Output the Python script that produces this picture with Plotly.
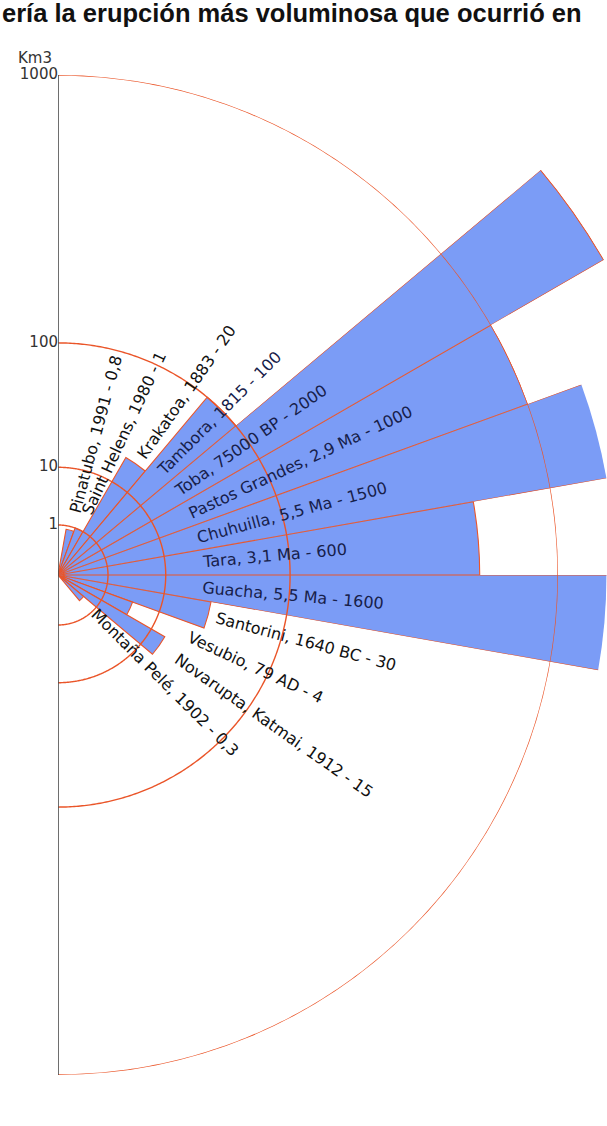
import numpy as np
import plotly.graph_objects as go

# ---------------- data ----------------
volcanoes = ["Pinatubo", "Saint Helens", "Krakatoa", "Tambora", "Toba",
             "Pastos Grandes", "Chuhuilla", "Tara", "Guacha", "Santorini",
             "Vesubio", "Novarupta, Katmai", "Montaña Pelé"]
dates = ["1991", "1980", "1883", "1815", "75000 BP", "2,9 Ma", "5,5 Ma",
         "3,1 Ma", "5,5 Ma", "1640 BC", "79 AD", "1912", "1902"]
volumes_km3 = [0.8, 1, 20, 100, 2000, 1000, 1500, 600, 1600, 30, 4, 15, 0.3]
tick_values = [1, 10, 100, 1000]
tick_labels = ["1", "10", "100", "1000"]
axis_unit = "Km3"
title_text = "ería la erupción más voluminosa que ocurrió en"

# ---------------- style / layout constants ----------------
W, H = 607, 1126
CX, CY = 58, 575          # pixel position of the polar centre
RP = 500                  # pixel radius of the 1000 km3 circle
ANG_START, ANG_STEP = 75, 10
BAR_FILL = "#7b9cf6"
RED = "#ea5529"
LABEL_FONT = 16


def cbrt(v):
    return float(np.cbrt(v))


def fmt(v):
    if float(v).is_integer():
        return str(int(v))
    return str(v).replace(".", ",")


def sector_bbox(a0, a1):
    """Bounding box of a sector (unit circle, incl. centre) - same rule as plotly."""
    c0, c1 = np.cos(np.radians(a0)), np.cos(np.radians(a1))
    s0, s1 = np.sin(np.radians(a0)), np.sin(np.radians(a1))
    x0 = min(0.0, c0, c1)
    x1 = 1.0 if a0 <= 0 <= a1 else max(0.0, c0, c1)
    y0 = -1.0 if a0 <= -90 <= a1 else min(0.0, s0, s1)
    y1 = 1.0 if a0 <= 90 <= a1 else max(0.0, s0, s1)
    return x0, y0, x1, y1


r_vals = [cbrt(v) for v in volumes_km3]
thetas = [ANG_START - ANG_STEP * i for i in range(len(volumes_km3))]
RMAX = cbrt(max(tick_values))
K = RP / RMAX  # px per radial unit
labels = [f"{n}, {d} - {fmt(v)}" for n, d, v in zip(volcanoes, dates, volumes_km3)]


def polar_layout(a0, a1, rr, bg="rgba(0,0,0,0)"):
    x0, y0, x1, y1 = sector_bbox(a0, a1)
    R = rr * K
    dom_x = [max(0.0, (CX + R * x0) / W), min(1.0, (CX + R * x1) / W)]
    dom_y = [max(0.0, (H - CY + R * y0) / H), min(1.0, (H - CY + R * y1) / H)]
    return dict(
        domain=dict(x=dom_x, y=dom_y), sector=[a0, a1], bgcolor=bg,
        radialaxis=dict(range=[0, rr], showgrid=False, showline=False,
                        showticklabels=False, ticks=""),
        angularaxis=dict(showgrid=False, showline=False, showticklabels=False,
                         ticks="", direction="counterclockwise", rotation=0),
    )


def fit_radius(a0, a1):
    x0, y0, x1, y1 = sector_bbox(a0, a1)
    lim = [(W - CX) / (x1 * K)]
    if y1 > 0:
        lim.append(CY / (y1 * K))
    if y0 < 0:
        lim.append((H - CY) / (-y0 * K))
    return min(lim) * 0.999


fig = go.Figure()
layout_polars = {"polar": polar_layout(-90, 90, RMAX, bg="white")}

# bars that fit inside the 1000 circle
small_idx = [i for i, r in enumerate(r_vals) if r <= RMAX]
big_idx = [i for i, r in enumerate(r_vals) if r > RMAX]

fig.add_trace(go.Barpolar(
    r=[r_vals[i] for i in small_idx], theta=[thetas[i] for i in small_idx],
    width=[ANG_STEP] * len(small_idx),
    marker=dict(color=BAR_FILL, line=dict(color=RED, width=1.1)),
    hovertext=[labels[i] for i in small_idx], hoverinfo="text",
    showlegend=False, subplot="polar",
))

# bars longer than the 1000 circle: each on its own sector subplot sharing
# the same centre and the same radial scale
sub_n = 2
for i in big_idx:
    a0, a1 = thetas[i] - ANG_STEP / 2, thetas[i] + ANG_STEP / 2
    rr = min(r_vals[i] * 1.001, fit_radius(a0, a1))
    pid = f"polar{sub_n}"
    layout_polars[pid] = polar_layout(a0, a1, rr)
    fig.add_trace(go.Barpolar(
        r=[r_vals[i]], theta=[thetas[i]], width=[ANG_STEP],
        marker=dict(color=BAR_FILL, line=dict(color=RED, width=1.1)),
        hovertext=[labels[i]], hoverinfo="text", showlegend=False, subplot=pid,
    ))
    sub_n += 1

# top subplot: guide circles, axis line and tick labels drawn over the bars
top = f"polar{sub_n}"
layout_polars[top] = polar_layout(-90, 90, RMAX)
arc_theta = np.linspace(90, -90, 361)
for tv in tick_values:
    fig.add_trace(go.Scatterpolar(
        r=[cbrt(tv)] * len(arc_theta), theta=arc_theta, mode="lines",
        line=dict(color=RED, width=1.4), cliponaxis=False,
        hoverinfo="skip", showlegend=False, subplot=top,
    ))

fig.add_trace(go.Scatterpolar(
    r=[RMAX, 0, RMAX], theta=[90, 90, -90], mode="lines",
    line=dict(color="#4a4a4a", width=1.6), cliponaxis=False,
    hoverinfo="skip", showlegend=False, subplot=top,
))

fig.add_trace(go.Scatterpolar(
    r=[cbrt(v) for v in tick_values], theta=[90] * len(tick_values),
    mode="text", text=tick_labels, textposition="middle left",
    textfont=dict(family="DejaVu Sans", size=15, color="#333333"),
    cliponaxis=False, hoverinfo="skip", showlegend=False, subplot=top,
))

fig.update_layout(
    width=W, height=H,
    margin=dict(l=0, r=0, t=0, b=0),
    paper_bgcolor="white",
    **layout_polars,
)

# ---------------- annotations ----------------
ann = []
half_h = (LABEL_FONT * 1.3 + 2) / 2
for lab, rv, th, v in zip(labels, r_vals, thetas, volumes_km3):
    if v < 2:
        r0 = rv + 0.32
    elif 2.6 < rv < 3.4:
        r0 = rv + 0.12
    else:
        r0 = 2.85
    t = np.radians(th)
    mx = CX + r0 * K * np.cos(t)
    my = CY - r0 * K * np.sin(t)
    if th >= 0:
        px, py, ya = mx - half_h * np.sin(t), my + half_h * np.cos(t), "bottom"
    else:
        px, py, ya = mx + half_h * np.sin(t), my - half_h * np.cos(t), "top"
    color = "#17204a" if v >= 100 else "#111111"
    ann.append(dict(
        x=px / W, y=1 - py / H, xref="paper", yref="paper",
        xanchor="left", yanchor=ya, text=lab, textangle=-th, showarrow=False,
        font=dict(family="DejaVu Sans", size=LABEL_FONT, color=color),
    ))

ann.append(dict(
    x=(CX - 4) / W, y=1 - (CY - RP - 17) / H, xref="paper", yref="paper",
    xanchor="right", yanchor="middle", text=axis_unit, showarrow=False,
    font=dict(family="DejaVu Sans", size=15, color="#333333"),
))
ann.append(dict(
    x=0, y=1 - 13 / H, xref="paper", yref="paper", xanchor="left",
    yanchor="middle", text=f"<b>{title_text}</b>", showarrow=False,
    font=dict(family="Liberation Sans", size=25.5, color="#111111"),
))
fig.update_layout(annotations=ann)

fig.write_html("out.html")
